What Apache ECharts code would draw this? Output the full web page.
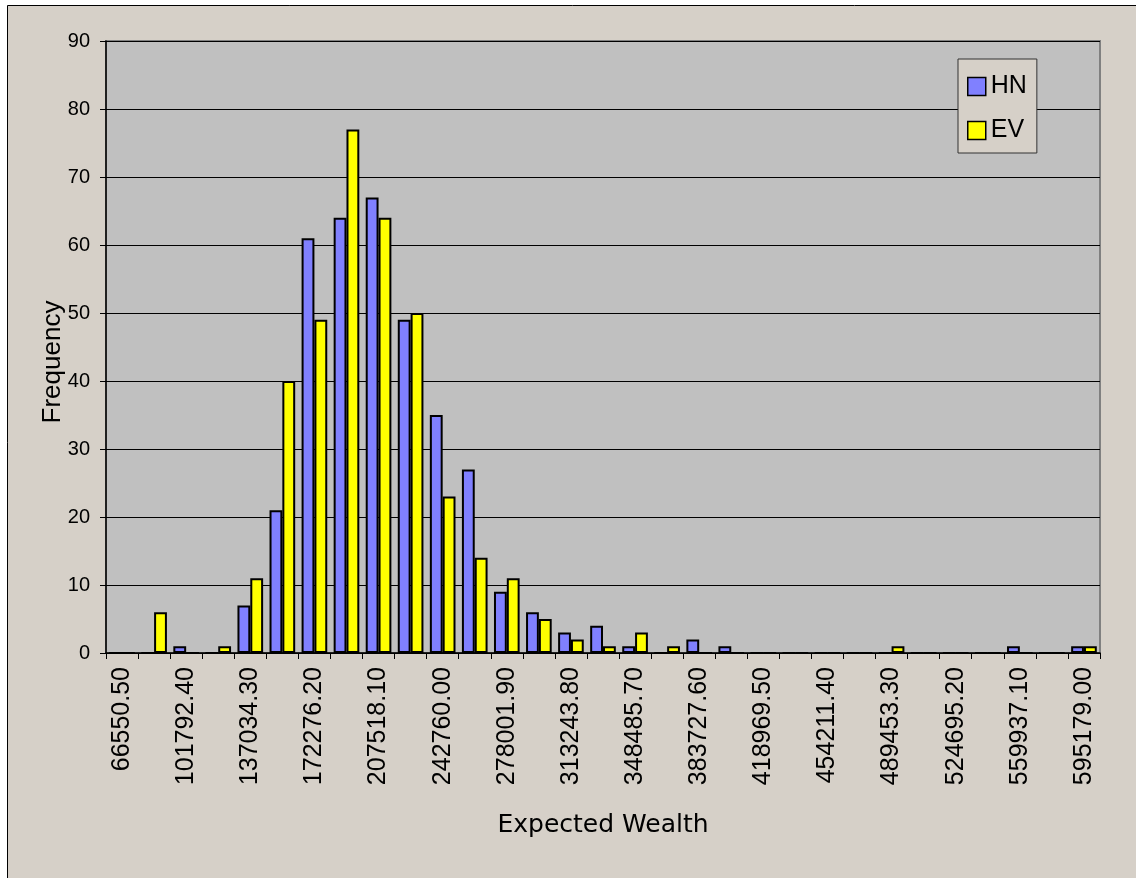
<!DOCTYPE html>
<html>
<head>
<meta charset="utf-8">
<script src="https://cdn.jsdelivr.net/npm/echarts@6/dist/echarts.min.js"></script>
<style>
html,body{margin:0;padding:0;background:#ffffff;}
#chart{width:1136px;height:878px;}
</style>
</head>
<body>
<div id="chart"></div>
<script>
const categories = ['66550.50','84171.45','101792.40','119413.35','137034.30','154655.25','172276.20','189897.15','207518.10','225139.05','242760.00','260380.95','278001.90','295622.85','313243.80','330864.75','348485.70','366106.65','383727.60','401348.55','418969.50','436590.45','454211.40','471832.35','489453.30','507074.25','524695.20','542316.15','559937.10','577558.05','595179.00'];
const hnValues = [0,0,1,0,7,21,61,64,67,49,35,27,9,6,3,4,1,0,2,1,0,0,0,0,0,0,0,0,1,0,1];
const evValues = [0,6,0,1,11,40,49,77,64,50,23,14,11,5,2,1,3,1,0,0,0,0,0,0,1,0,0,0,0,0,1];
const seriesNames = ['HN','EV'];
const yTicks = {min:0, max:90, interval:10};
const xAxisTitle = 'Expected Wealth';
const yAxisTitle = 'Frequency';

const FONT = "'Liberation Sans', Arial, sans-serif";
const chart = echarts.init(document.getElementById('chart'), null, {renderer:'canvas'});
chart.setOption({
  animation:false,
  backgroundColor:'#ffffff',
  graphic:[
    {type:'rect', z:-10, silent:true,
     shape:{x:7.5, y:5.5, width:1140, height:890},
     style:{fill:'#d6d0c8', stroke:'#000000', lineWidth:1}},
    {type:'text', silent:true, x:53, y:362, rotation:Math.PI/2,
     style:{text:yAxisTitle, align:'center', verticalAlign:'middle', font:"26px 'Liberation Sans', Arial, sans-serif", fill:'#000'}}
  ],
  grid:{left:106, top:41, right:36, bottom:225, show:true, backgroundColor:'#c0c0c0', borderColor:'#808080', borderWidth:2, containLabel:false},
  legend:{
    data:seriesNames, orient:'vertical', left:958, top:59, icon:'rect',
    padding:[15,10,10,9], itemWidth:18, itemHeight:18, itemGap:19,
    backgroundColor:'#d6d0c8', borderColor:'#333333', borderWidth:1,
    textStyle:{fontFamily:FONT, fontSize:25, color:'#000'},
    itemStyle:{borderColor:'#000', borderWidth:1.5}
  },
  xAxis:{
    type:'category', data:categories, boundaryGap:true,
    name:xAxisTitle, nameLocation:'middle', nameGap:160,
    nameTextStyle:{fontFamily:"'DejaVu Sans', Verdana, sans-serif", fontSize:25, color:'#000'},
    axisLine:{lineStyle:{color:'#000', width:1.5}},
    axisTick:{show:true, interval:0, length:6, lineStyle:{color:'#000'}},
    axisLabel:{interval:1, rotate:90, margin:14, fontFamily:FONT, fontSize:25, color:'#000'},
    splitLine:{show:false}
  },
  yAxis:{
    type:'value', min:yTicks.min, max:yTicks.max, interval:yTicks.interval,
    axisLine:{show:true, lineStyle:{color:'#000', width:1.5}},
    axisTick:{show:true, length:6, lineStyle:{color:'#000'}},
    axisLabel:{margin:16, fontFamily:FONT, fontSize:20, color:'#000'},
    splitLine:{show:true, lineStyle:{color:'#000', width:1}}
  },
  series:[
    {name:seriesNames[0], type:'bar', data:hnValues, barGap:'0%', barCategoryGap:'20%',
     itemStyle:{color:'#8080ff', borderColor:'#000', borderWidth:2}},
    {name:seriesNames[1], type:'bar', data:evValues, barGap:'0%', barCategoryGap:'20%',
     itemStyle:{color:'#ffff00', borderColor:'#000', borderWidth:2}}
  ]
});
</script>
</body>
</html>
